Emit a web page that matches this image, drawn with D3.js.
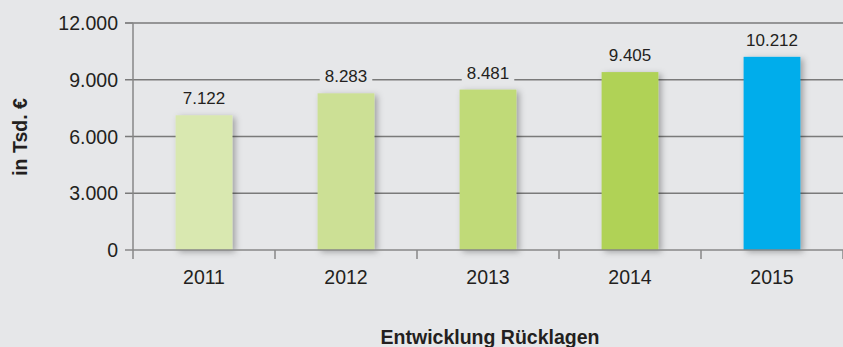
<!DOCTYPE html>
<html>
<head>
<meta charset="utf-8">
<script src="https://cdn.jsdelivr.net/npm/d3@7"></script>
<style>
    body { margin: 0; background: #e6e7e9; }
    svg { display: block; font-family: "Liberation Sans", Arial, sans-serif; }
    .grid line { stroke: #7a7a7a; stroke-width: 1.3; }
    .tick-label { fill: #231f20; font-size: 19.5px; }
    .value-label { fill: #231f20; font-size: 17px; }
    .title { fill: #231f20; font-size: 19.5px; font-weight: bold; }
</style>
</head>
<body>
<div id="chart"></div>
<script>
// data
const years = ['2011', '2012', '2013', '2014', '2015'];
const reserves = [7122, 8283, 8481, 9405, 10212];
const barColors = ['#d9e8b0', '#cce095', '#c0da78', '#b0d257', '#00adeb'];
const yTicks = [0, 3000, 6000, 9000, 12000];

const width = 843, height = 347;
const margin = { top: 23, right: 0, bottom: 97, left: 133 };
const bg = '#e6e7e9';

let fmt = v => d3.format(',')(v).replace(/,/g, '.');

const svg = d3.select('#chart').append('svg')
    .attr('width', width)
    .attr('height', height);

svg.append('rect').attr('width', width).attr('height', height).attr('fill', bg);

// soft shadow under bars
const filter = svg.append('defs').append('filter')
    .attr('id', 'shadow')
    .attr('x', '-30%').attr('y', '-10%')
    .attr('width', '160%').attr('height', '130%');
filter.append('feDropShadow')
    .attr('dx', 3).attr('dy', 2)
    .attr('stdDeviation', 3)
    .attr('flood-color', '#000')
    .attr('flood-opacity', 0.3);

const x = d3.scaleBand()
    .domain(years)
    .range([margin.left, width - margin.right])
    .paddingInner(0.6)
    .paddingOuter(0.3);

const y = d3.scaleLinear()
    .domain([0, 12000])
    .range([height - margin.bottom, margin.top]);

// gridlines
const grid = svg.append('g').attr('class', 'grid');
grid.selectAll('line')
    .data(yTicks.filter(d => d > 0)).enter()
    .append('line')
    .attr('x1', margin.left - 8)
    .attr('x2', width)
    .attr('y1', d => y(d))
    .attr('y2', d => y(d));

// y tick labels
svg.append('g')
    .selectAll('text')
    .data(yTicks).enter()
    .append('text')
    .attr('class', 'tick-label')
    .attr('x', margin.left - 15)
    .attr('y', d => y(d))
    .attr('dy', '0.36em')
    .attr('text-anchor', 'end')
    .text(d => d === 0 ? '0' : fmt(d));

// bars
svg.append('g')
    .selectAll('rect')
    .data(years).enter()
    .append('rect')
    .attr('x', d => x(d))
    .attr('y', (d, i) => y(reserves[i]))
    .attr('width', x.bandwidth())
    .attr('height', (d, i) => y(0) - y(reserves[i]))
    .attr('fill', (d, i) => barColors[i])
    .attr('filter', 'url(#shadow)');

// value labels, with a box in the background colour that cuts the gridline
const labels = svg.append('g')
    .selectAll('g')
    .data(years).enter()
    .append('g');

labels.append('text')
    .attr('class', 'value-label')
    .attr('x', d => x(d) + x.bandwidth() / 2)
    .attr('y', (d, i) => y(reserves[i]) - 11)
    .attr('text-anchor', 'middle')
    .text((d, i) => fmt(reserves[i]));

labels.each(function() {
    const g = d3.select(this);
    const bb = g.select('text').node().getBBox();
    g.insert('rect', 'text')
        .attr('x', bb.x - 5)
        .attr('y', bb.y)
        .attr('width', bb.width + 10)
        .attr('height', bb.height)
        .attr('fill', bg);
});

// axis lines
const axisColor = '#878787';
const axes = svg.append('g').attr('stroke', axisColor).attr('stroke-width', 1.5);
axes.append('line')
    .attr('x1', margin.left).attr('x2', margin.left)
    .attr('y1', y(12000)).attr('y2', y(0) + 9);
axes.append('line')
    .attr('x1', margin.left - 8).attr('x2', width)
    .attr('y1', y(0)).attr('y2', y(0));
axes.append('line')
    .attr('x1', margin.left - 8).attr('x2', margin.left)
    .attr('y1', y(12000)).attr('y2', y(12000));

const gap = (x.step() - x.bandwidth()) / 2;
axes.selectAll('.xtick')
    .data(years.map(d => x(d) + x.bandwidth() + gap)).enter()
    .append('line')
    .attr('x1', d => d).attr('x2', d => d)
    .attr('y1', y(0)).attr('y2', y(0) + 9);

// x labels
svg.append('g')
    .selectAll('text')
    .data(years).enter()
    .append('text')
    .attr('class', 'tick-label')
    .attr('x', d => x(d) + x.bandwidth() / 2)
    .attr('y', y(0) + 27)
    .attr('dy', '0.36em')
    .attr('text-anchor', 'middle')
    .text(d => d);

// titles
svg.append('text')
    .attr('class', 'title')
    .attr('transform', `translate(27, ${137}) rotate(-90)`)
    .attr('text-anchor', 'middle')
    .text('in Tsd. €');

svg.append('text')
    .attr('class', 'title')
    .attr('x', 490)
    .attr('y', 344)
    .attr('text-anchor', 'middle')
    .text('Entwicklung Rücklagen');
</script>
</body>
</html>
